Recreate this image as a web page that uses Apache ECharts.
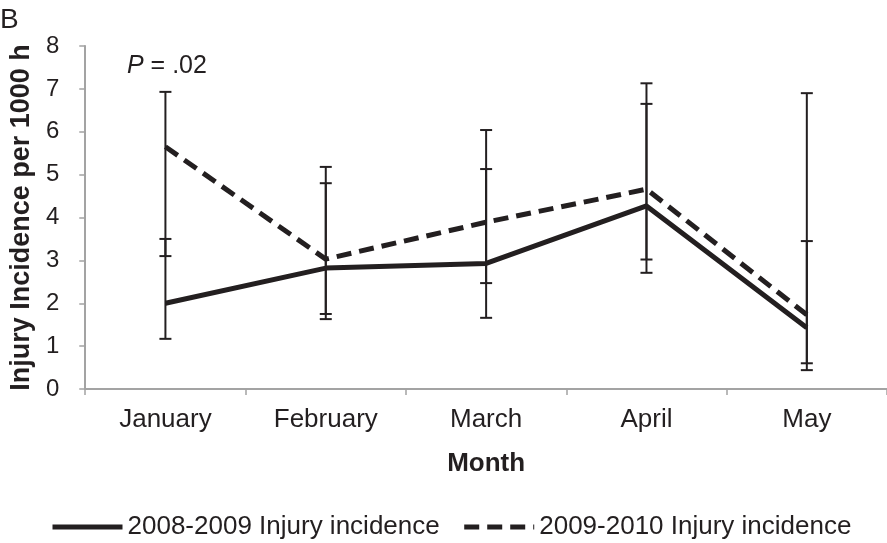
<!DOCTYPE html>
<html>
<head>
<meta charset="utf-8">
<script src="https://cdn.jsdelivr.net/npm/echarts@6/dist/echarts.min.js"></script>
<style>
html,body{margin:0;padding:0;background:#fff;}
#chart{width:887px;height:543px;}
</style>
</head>
<body>
<div id="chart"></div>
<script>
const months = ['January', 'February', 'March', 'April', 'May'];
const yTicks = [0, 1, 2, 3, 4, 5, 6, 7, 8];
const series1Name = '2008-2009 Injury incidence';
const series2Name = '2009-2010 Injury incidence';
const incidence0809 = [2.0, 2.82, 2.93, 4.27, 1.43];
const incidence0910 = [5.65, 3.03, 3.89, 4.66, 1.73];
const low0809 = [1.17, 1.63, 1.66, 2.71, 0.44];
const high0809 = [3.5, 4.8, 5.13, 6.65, 3.45];
const low0910 = [3.1, 1.75, 2.47, 3.02, 0.6];
const high0910 = [6.93, 5.18, 6.04, 7.13, 6.9];

const ink = '#231f20';
const axisGray = '#a3a3a3';
const fontFam = '"Liberation Sans", Arial, sans-serif';

function errData(lows, highs) {
  return months.map((m, i) => [i, lows[i], highs[i]]);
}
function renderErr(params, api) {
  const x = api.value(0);
  const lo = api.coord([x, api.value(1)]);
  const hi = api.coord([x, api.value(2)]);
  const half = 6;
  const st = { stroke: ink, lineWidth: 2 };
  return {
    type: 'group',
    children: [
      { type: 'line', shape: { x1: lo[0], y1: lo[1], x2: hi[0], y2: hi[1] }, style: st },
      { type: 'line', shape: { x1: lo[0] - half, y1: lo[1], x2: lo[0] + half, y2: lo[1] }, style: st },
      { type: 'line', shape: { x1: hi[0] - half, y1: hi[1], x2: hi[0] + half, y2: hi[1] }, style: st }
    ]
  };
}

const chart = echarts.init(document.getElementById('chart'));
chart.setOption({
  animation: false,
  backgroundColor: '#fff',
  textStyle: { fontFamily: fontFam, color: ink },
  grid: { left: 82, right: -3, top: 46, bottom: 154, containLabel: false },
  xAxis: {
    type: 'category',
    data: months,
    boundaryGap: true,
    name: 'Month',
    nameLocation: 'middle',
    nameGap: 62,
    nameTextStyle: { fontSize: 26, fontWeight: 'bold', color: ink, fontFamily: fontFam },
    axisLine: { lineStyle: { color: axisGray, width: 2 } },
    axisTick: { show: true, inside: false, length: 6, lineStyle: { color: axisGray, width: 1.5 } },
    axisLabel: { fontSize: 26, color: ink, margin: 18, fontFamily: fontFam },
    splitLine: { show: false }
  },
  yAxis: {
    type: 'value',
    min: yTicks[0],
    max: yTicks[yTicks.length - 1],
    interval: 1,
    name: 'Injury Incidence per 1000 h',
    nameLocation: 'middle',
    nameGap: 50,
    nameRotate: 90,
    nameTextStyle: { fontSize: 27, fontWeight: 'bold', color: ink, fontFamily: fontFam },
    axisLine: { show: true, lineStyle: { color: axisGray, width: 2 } },
    axisTick: { show: true, inside: false, length: 6, lineStyle: { color: axisGray, width: 1.5 } },
    axisLabel: { fontSize: 24, color: ink, margin: 26, fontFamily: fontFam },
    splitLine: { show: false }
  },
  legend: {
    data: [series1Name, series2Name],
    bottom: -2,
    left: 45,
    itemWidth: 70,
    itemHeight: 20,
    itemGap: 22,
    itemStyle: { opacity: 0 },
    lineStyle: { width: 5 },
    textStyle: { fontSize: 26, color: ink, fontFamily: fontFam }
  },
  graphic: [
    { type: 'text', left: 0, top: 6, style: { text: 'B', font: '28px ' + fontFam, fill: ink } },
    { type: 'text', left: 127, top: 54, style: { text: '{i|P} = .02', rich: { i: { fontStyle: 'italic', fontSize: 25, fontFamily: fontFam, fill: ink } }, font: '25px ' + fontFam, fill: ink } }
  ],
  series: [
    {
      name: series1Name,
      type: 'line',
      data: incidence0809,
      symbol: 'none',
      lineStyle: { color: ink, width: 5, type: 'solid' },
      itemStyle: { color: ink },
      z: 3
    },
    {
      name: series2Name,
      type: 'line',
      data: incidence0910,
      symbol: 'none',
      lineStyle: { color: ink, width: 5, type: [15, 8] },
      itemStyle: { color: ink },
      z: 3
    },
    {
      type: 'custom',
      name: 'err0809',
      data: errData(low0809, high0809),
      renderItem: renderErr,
      encode: { x: 0, y: [1, 2] },
      z: 2
    },
    {
      type: 'custom',
      name: 'err0910',
      data: errData(low0910, high0910),
      renderItem: renderErr,
      encode: { x: 0, y: [1, 2] },
      z: 2
    }
  ]
});
</script>
</body>
</html>
